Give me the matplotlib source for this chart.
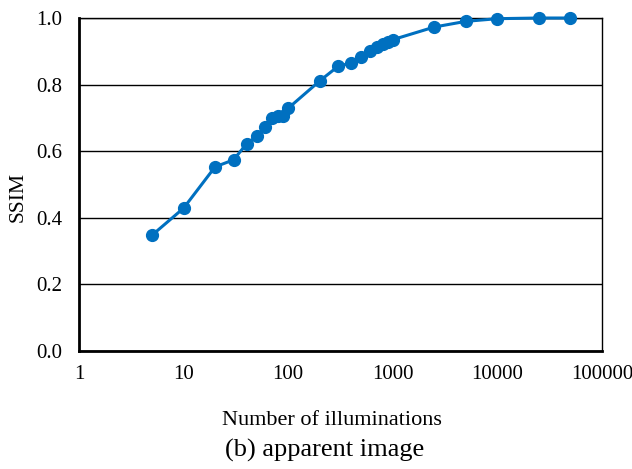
import matplotlib

matplotlib.use("Agg")
import matplotlib.pyplot as plt

# number of illuminations vs SSIM (apparent image)
n_illum = [5, 10, 20, 30, 40, 50, 60, 70, 80, 90, 100, 200, 300, 400, 500,
           600, 700, 800, 900, 1000, 2500, 5000, 10000, 25000, 50000]
ssim = [0.348, 0.429, 0.553, 0.574, 0.622, 0.645, 0.673, 0.700, 0.705, 0.706,
        0.729, 0.811, 0.855, 0.865, 0.884, 0.900, 0.912, 0.922, 0.928, 0.935,
        0.973, 0.990, 0.998, 1.000, 1.000]
xticks = [1, 10, 100, 1000, 10000, 100000]
yticks = [0.0, 0.2, 0.4, 0.6, 0.8, 1.0]

plt.rcParams["font.family"] = ["Liberation Serif", "DejaVu Serif"]

fig = plt.figure(figsize=(6.32, 4.69), dpi=100)
ax = fig.add_axes([0.125, 0.2516, 0.8275, 0.71])

ax.plot(n_illum, ssim, color="#0070C0", lw=2.2, marker="o", ms=8.5, zorder=3,
        clip_on=False)

ax.set_xscale("log")
ax.set_xlim(1, 100000)
ax.set_ylim(0, 1.0)
ax.set_xticks(xticks)
ax.set_xticklabels([str(t) for t in xticks])
ax.minorticks_off()
ax.set_yticks(yticks)
ax.set_yticklabels([f"{t:.1f}" for t in yticks])
ax.tick_params(length=0, labelsize=15)
ax.tick_params(axis="x", pad=10)
ax.tick_params(axis="y", pad=12)
ax.yaxis.grid(True, color="black", lw=1)
ax.set_axisbelow(True)

for side in ["left", "bottom"]:
    ax.spines[side].set_linewidth(2)
ax.spines["right"].set_linewidth(1)
ax.spines["top"].set_linewidth(1)

# labels placed like the original (slightly off-centre)
fig.text(0.029, 0.58, "SSIM", rotation=90, ha="center", va="center", fontsize=15.5)
fig.text(0.525, 0.094, "Number of illuminations", ha="center", va="baseline",
         fontsize=16)
fig.text(0.513, 0.026, "(b) apparent image", ha="center", va="baseline",
         fontsize=19)

fig.savefig("out.png", dpi=100)
